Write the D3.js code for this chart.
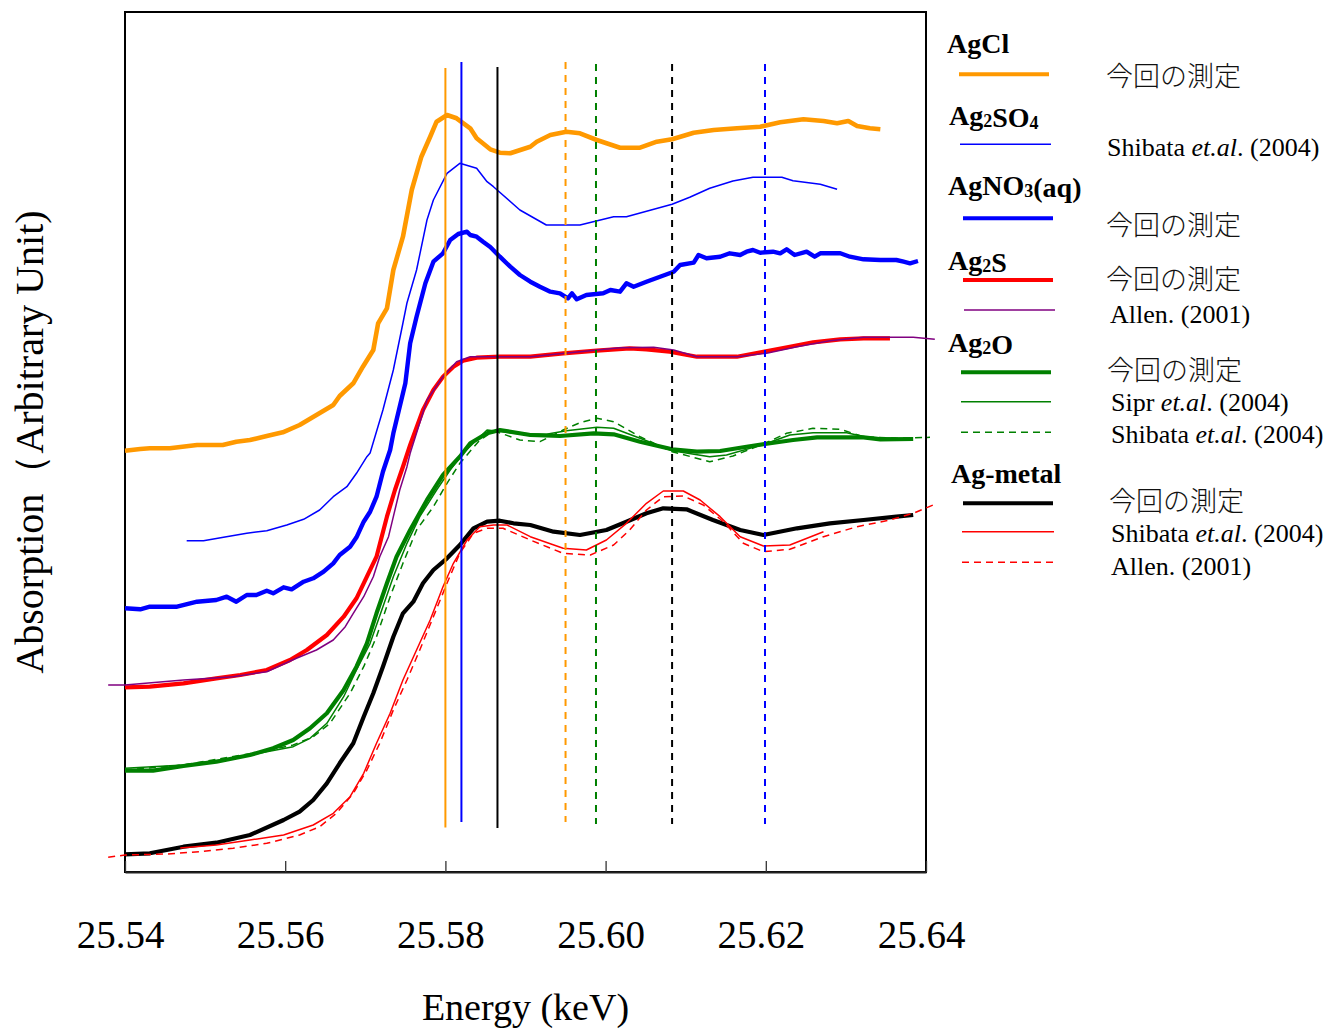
<!DOCTYPE html>
<html>
<head>
<meta charset="utf-8">
<script src="https://cdn.jsdelivr.net/npm/d3@7"></script>
<style>
  html, body { margin: 0; padding: 0; background: #fff; }
  svg { display: block; }
</style>
</head>
<body>
<svg id="chart" width="1332" height="1029"></svg>
<script>
// ---------------- DATA ----------------
const energyTicks = [25.54, 25.56, 25.58, 25.60, 25.62, 25.64];

// [energy (keV), absorption (arb. units, stacked offsets)]
const agclMeasured = [
  [25.5400,4.213],[25.5419,4.23],[25.5431,4.237],[25.5456,4.237],[25.5490,4.27],[25.5522,4.27],
  [25.5539,4.303],[25.5556,4.32],[25.5577,4.36],[25.5597,4.397],[25.5618,4.47],[25.5639,4.57],
  [25.5660,4.67],[25.5668,4.76],[25.5685,4.887],[25.5697,5.053],[25.5710,5.22],[25.5716,5.487],
  [25.5727,5.637],[25.5735,6.02],[25.5747,6.353],[25.5758,6.82],[25.5770,7.153],[25.5781,7.353],
  [25.5789,7.503],[25.5802,7.57],[25.5814,7.537],[25.5831,7.437],[25.5839,7.337],[25.5856,7.227],
  [25.5868,7.193],[25.5881,7.187],[25.5906,7.253],[25.5914,7.303],[25.5931,7.37],[25.5951,7.403],
  [25.5968,7.387],[25.5989,7.32],[25.6018,7.243],[25.6043,7.243],[25.6064,7.303],[25.6083,7.327],
  [25.6110,7.393],[25.6135,7.42],[25.6164,7.437],[25.6193,7.453],[25.6218,7.497],[25.6247,7.527],
  [25.6272,7.51],[25.6289,7.487],[25.6303,7.51],[25.6314,7.46],[25.6330,7.437],[25.6343,7.427]
];

const ag2so4Shibata = [
  [25.5477,3.313],[25.5498,3.313],[25.5523,3.347],[25.5552,3.387],[25.5577,3.413],[25.5602,3.47],
  [25.5623,3.527],[25.5643,3.62],[25.5660,3.753],[25.5677,3.853],[25.5689,3.987],[25.5702,4.153],
  [25.5706,4.19],[25.5722,4.62],[25.5735,5.02],[25.5747,5.49],[25.5752,5.69],[25.5764,6.02],
  [25.5777,6.52],[25.5785,6.72],[25.5802,6.987],[25.5818,7.087],[25.5839,7.037],[25.5852,6.903],
  [25.5860,6.853],[25.5893,6.62],[25.5926,6.47],[25.5968,6.47],[25.6010,6.553],[25.6026,6.553],
  [25.6083,6.677],[25.6105,6.747],[25.6130,6.837],[25.6159,6.91],[25.6184,6.947],[25.6220,6.947],
  [25.6234,6.913],[25.6268,6.877],[25.6289,6.827]
];

const agno3Measured = [
  [25.5400,2.637],[25.5419,2.627],[25.5431,2.653],[25.5465,2.653],[25.5490,2.703],[25.5514,2.72],
  [25.5527,2.753],[25.5539,2.703],[25.5552,2.77],[25.5564,2.77],[25.5577,2.813],[25.5585,2.787],
  [25.5598,2.847],[25.5608,2.827],[25.5623,2.903],[25.5635,2.937],[25.5648,3.003],[25.5660,3.087],
  [25.5668,3.17],[25.5681,3.253],[25.5689,3.347],[25.5698,3.503],[25.5706,3.603],[25.5714,3.753],
  [25.5722,4.003],[25.5731,4.22],[25.5735,4.387],[25.5750,4.887],[25.5756,5.287],[25.5764,5.553],
  [25.5775,5.887],[25.5785,6.103],[25.5797,6.187],[25.5806,6.32],[25.5816,6.38],[25.5827,6.403],
  [25.5831,6.37],[25.5839,6.353],[25.5847,6.303],[25.5856,6.25],[25.5868,6.153],[25.5881,6.053],
  [25.5893,5.97],[25.5906,5.903],[25.5918,5.853],[25.5931,5.803],[25.5943,5.787],[25.5953,5.737],
  [25.5958,5.787],[25.5964,5.727],[25.5976,5.77],[25.5997,5.787],[25.6006,5.82],[25.6018,5.803],
  [25.6026,5.887],[25.6035,5.853],[25.6051,5.903],[25.6068,5.953],[25.6085,6.003],[25.6093,6.07],
  [25.6110,6.093],[25.6116,6.17],[25.6126,6.137],[25.6143,6.153],[25.6155,6.187],[25.6168,6.17],
  [25.6176,6.203],[25.6184,6.22],[25.6193,6.193],[25.6209,6.203],[25.6218,6.187],[25.6226,6.227],
  [25.6236,6.17],[25.6251,6.203],[25.6261,6.153],[25.6268,6.187],[25.6293,6.187],[25.6305,6.153],
  [25.6322,6.127],[25.6343,6.12],[25.6363,6.12],[25.6372,6.103],[25.6380,6.087],[25.6390,6.11]
];

const ag2sMeasured = [
  [25.5400,1.847],[25.5431,1.853],[25.5473,1.887],[25.5514,1.937],[25.5544,1.97],[25.5577,2.02],
  [25.5606,2.12],[25.5627,2.22],[25.5652,2.37],[25.5673,2.553],[25.5689,2.737],[25.5702,2.953],
  [25.5714,3.153],[25.5727,3.553],[25.5737,3.82],[25.5747,4.053],[25.5756,4.27],[25.5772,4.62],
  [25.5785,4.82],[25.5797,4.953],[25.5810,5.053],[25.5822,5.113],[25.5839,5.143],[25.5868,5.153],
  [25.5906,5.153],[25.5947,5.187],[25.5989,5.213],[25.6030,5.237],[25.6051,5.227],[25.6080,5.203],
  [25.6114,5.153],[25.6164,5.153],[25.6197,5.203],[25.6230,5.253],[25.6259,5.297],[25.6293,5.327],
  [25.6322,5.337],[25.6355,5.337]
];

const ag2sAllen = [
  [25.5379,1.87],[25.5400,1.87],[25.5473,1.92],[25.5535,1.953],[25.5577,2.003],[25.5614,2.137],
  [25.5639,2.22],[25.5660,2.32],[25.5675,2.453],[25.5685,2.587],[25.5698,2.753],[25.5710,2.953],
  [25.5718,3.153],[25.5729,3.353],[25.5733,3.487],[25.5743,3.82],[25.5752,4.053],[25.5756,4.187],
  [25.5777,4.72],[25.5797,4.953],[25.5814,5.103],[25.5831,5.153],[25.5868,5.153],[25.5906,5.153],
  [25.5968,5.203],[25.6018,5.243],[25.6060,5.247],[25.6085,5.22],[25.6114,5.153],[25.6164,5.153],
  [25.6201,5.187],[25.6239,5.253],[25.6280,5.313],[25.6322,5.347],[25.6384,5.347],[25.6411,5.327]
];

const ag2oMeasured = [
  [25.5400,1.013],[25.5435,1.013],[25.5473,1.06],[25.5514,1.103],[25.5556,1.17],[25.5585,1.237],
  [25.5610,1.32],[25.5631,1.437],[25.5652,1.587],[25.5673,1.82],[25.5689,2.053],[25.5702,2.287],
  [25.5714,2.587],[25.5727,2.887],[25.5739,3.153],[25.5756,3.42],[25.5777,3.72],[25.5797,3.97],
  [25.5818,4.153],[25.5831,4.287],[25.5852,4.387],[25.5868,4.42],[25.5906,4.37],[25.5943,4.36],
  [25.5985,4.387],[25.6010,4.377],[25.6043,4.303],[25.6083,4.227],[25.6114,4.203],[25.6143,4.21],
  [25.6176,4.253],[25.6199,4.28],[25.6234,4.32],[25.6264,4.347],[25.6322,4.347],[25.6343,4.327],
  [25.6384,4.33]
];

const ag2oSipr = [
  [25.5400,1.037],[25.5473,1.07],[25.5535,1.137],[25.5577,1.203],[25.5610,1.253],[25.5631,1.337],
  [25.5652,1.487],[25.5673,1.753],[25.5689,2.02],[25.5706,2.287],[25.5722,2.653],[25.5735,2.953],
  [25.5752,3.287],[25.5768,3.553],[25.5789,3.82],[25.5806,4.02],[25.5822,4.187],[25.5852,4.42],
  [25.5885,4.387],[25.5926,4.377],[25.5951,4.413],[25.5989,4.447],[25.6010,4.437],[25.6043,4.337],
  [25.6083,4.213],[25.6130,4.153],[25.6151,4.17],[25.6199,4.28],[25.6230,4.37],[25.6259,4.393],
  [25.6301,4.393],[25.6326,4.347],[25.6363,4.337]
];

const ag2oShibata = [
  [25.5400,1.02],[25.5473,1.07],[25.5577,1.213],[25.5610,1.27],[25.5635,1.353],[25.5656,1.487],
  [25.5681,1.787],[25.5698,2.053],[25.5714,2.353],[25.5731,2.753],[25.5747,3.087],[25.5764,3.42],
  [25.5785,3.653],[25.5802,3.887],[25.5818,4.087],[25.5843,4.32],[25.5856,4.387],[25.5864,4.403],
  [25.5893,4.32],[25.5918,4.303],[25.5947,4.42],[25.5968,4.493],[25.5989,4.537],[25.6010,4.503],
  [25.6043,4.353],[25.6083,4.203],[25.6130,4.103],[25.6159,4.16],[25.6199,4.287],[25.6226,4.387],
  [25.6259,4.437],[25.6293,4.427],[25.6322,4.353],[25.6363,4.337],[25.6405,4.347]
];

const agMetalMeasured = [
  [25.5400,0.177],[25.5431,0.187],[25.5473,0.253],[25.5514,0.293],[25.5556,0.37],[25.5598,0.52],
  [25.5618,0.603],[25.5635,0.72],[25.5652,0.887],[25.5668,1.087],[25.5685,1.287],[25.5698,1.553],
  [25.5710,1.787],[25.5722,2.053],[25.5735,2.353],[25.5747,2.587],[25.5760,2.703],[25.5772,2.887],
  [25.5785,3.02],[25.5802,3.137],[25.5818,3.27],[25.5835,3.437],[25.5852,3.503],[25.5868,3.513],
  [25.5885,3.487],[25.5906,3.47],[25.5935,3.403],[25.5968,3.37],[25.6001,3.42],[25.6026,3.503],
  [25.6051,3.587],[25.6072,3.637],[25.6101,3.627],[25.6134,3.52],[25.6168,3.42],[25.6197,3.37],
  [25.6239,3.437],[25.6280,3.487],[25.6322,3.52],[25.6363,3.553],[25.6384,3.57]
];

const agMetalShibata = [
  [25.5469,0.24],[25.5514,0.27],[25.5556,0.32],[25.5598,0.37],[25.5635,0.47],[25.5660,0.587],
  [25.5681,0.753],[25.5698,0.987],[25.5714,1.287],[25.5731,1.587],[25.5747,1.92],[25.5764,2.22],
  [25.5781,2.52],[25.5797,2.853],[25.5810,3.087],[25.5827,3.32],[25.5843,3.453],[25.5860,3.47],
  [25.5877,3.47],[25.5906,3.353],[25.5947,3.237],[25.5976,3.22],[25.6001,3.32],[25.6026,3.487],
  [25.6051,3.687],[25.6072,3.81],[25.6097,3.81],[25.6118,3.72],[25.6143,3.553],[25.6168,3.353],
  [25.6197,3.26],[25.6230,3.27],[25.6272,3.403]
];

const agMetalAllen = [
  [25.5379,0.147],[25.5400,0.17],[25.5452,0.18],[25.5494,0.203],[25.5535,0.237],[25.5577,0.287],
  [25.5618,0.37],[25.5643,0.453],[25.5664,0.587],[25.5685,0.787],[25.5702,1.02],[25.5718,1.287],
  [25.5735,1.62],[25.5752,1.92],[25.5768,2.22],[25.5785,2.553],[25.5802,2.887],[25.5818,3.187],
  [25.5835,3.387],[25.5852,3.437],[25.5872,3.437],[25.5906,3.32],[25.5947,3.187],[25.5981,3.17],
  [25.6010,3.27],[25.6030,3.42],[25.6051,3.62],[25.6072,3.753],[25.6097,3.76],[25.6122,3.67],
  [25.6147,3.503],[25.6172,3.287],[25.6197,3.203],[25.6230,3.227],[25.6272,3.353],[25.6314,3.453],
  [25.6355,3.52],[25.6384,3.587],[25.6409,3.67]
];

// reference energies (keV) and vertical extent (absorption units)
const refEnergies = [25.5800, 25.5820, 25.5865, 25.5950, 25.5988, 25.6083, 25.6199];
const refTop      = [8.04, 8.10, 8.05, 8.10, 8.08, 8.08, 8.08];
const refBottom   = [0.445, 0.50, 0.44, 0.50, 0.48, 0.48, 0.48];

// ---------------- STYLE / LAYOUT ----------------
const C = { orange: "#FF9900", blue: "#0000FF", red: "#FF0000", green: "#008000", purple: "#800080", black: "#000000" };
const THICK = 4.2, THIN = 1.5, DASH = "7,5";
const refStyles = [
  { color: C.orange, dash: null }, { color: C.blue, dash: null }, { color: C.black, dash: null },
  { color: C.orange, dash: "7,6" }, { color: C.green, dash: "7,6" }, { color: C.black, dash: "7,6" }, { color: C.blue, dash: "7,6" }
];
const seriesDraw = [
  { data: agclMeasured,    color: C.orange, w: 4.6,  dash: null },
  { data: ag2so4Shibata,   color: C.blue,   w: THIN, dash: null },
  { data: agno3Measured,   color: C.blue,   w: 4.4,  dash: null },
  { data: ag2sMeasured,    color: C.red,    w: THICK,dash: null },
  { data: ag2sAllen,       color: C.purple, w: THIN, dash: null },
  { data: ag2oMeasured,    color: C.green,  w: THICK,dash: null },
  { data: ag2oSipr,        color: C.green,  w: THIN, dash: null },
  { data: ag2oShibata,     color: C.green,  w: THIN, dash: DASH },
  { data: agMetalMeasured, color: C.black,  w: THICK,dash: null },
  { data: agMetalShibata,  color: C.red,    w: THIN, dash: null },
  { data: agMetalAllen,    color: C.red,    w: THIN, dash: DASH }
];

const SERIF = "'Liberation Serif','Times New Roman',Times,serif";
const JP = "'Noto Sans CJK JP','Noto Sans CJK SC',sans-serif";

const svg = d3.select("#chart");
const plot = { left: 125, right: 926, top: 12, bottom: 872 };

const x = d3.scaleLinear().domain([25.54, 25.64]).range([plot.left, plot.right]);
const y = d3.scaleLinear().domain([0, 8.6]).range([plot.bottom, plot.top]);

const line = d3.line().x(d => x(d[0])).y(d => y(d[1]));

// frame
svg.append("rect")
  .attr("x", plot.left).attr("y", plot.top)
  .attr("width", plot.right - plot.left).attr("height", plot.bottom - plot.top)
  .attr("fill", "none").attr("stroke", "#000").attr("stroke-width", 2);

// x axis
const xAxis = d3.axisBottom(x).tickValues(energyTicks).tickFormat(d3.format(".2f"))
  .tickSizeInner(-11).tickSizeOuter(0);
const gx = svg.append("g").attr("transform", `translate(0,${plot.bottom})`).call(xAxis);
gx.attr("font-family", null).attr("font-size", null);
gx.select(".domain").attr("stroke", "#222").attr("stroke-width", 2);
gx.selectAll(".tick line").attr("stroke", "#333").attr("stroke-width", 1.3);
gx.selectAll(".tick text")
  .attr("y", 76).attr("dy", 0).attr("dx", -5)
  .attr("fill", "#000")
  .style("font-family", SERIF).style("font-size", "39px");

// axis titles
svg.append("text")
  .attr("x", (plot.left + plot.right) / 2).attr("y", 1020)
  .attr("text-anchor", "middle")
  .style("font-family", SERIF).style("font-size", "38px")
  .text("Energy (keV)");

svg.append("text")
  .attr("transform", `translate(43,${(plot.top + plot.bottom) / 2}) rotate(-90)`)
  .attr("text-anchor", "middle")
  .style("font-family", SERIF).style("font-size", "40px")
  .text("Absorption（Arbitrary Unit)");

// series
seriesDraw.forEach(s => {
  svg.append("path")
    .datum(s.data)
    .attr("d", line)
    .attr("fill", "none")
    .attr("stroke", s.color)
    .attr("stroke-width", s.w)
    .attr("stroke-linejoin", "round")
    .attr("stroke-dasharray", s.dash);
});

// reference vertical lines
svg.append("g").selectAll("line")
  .data(refEnergies.map((e, i) => ({ e, top: refTop[i], bot: refBottom[i], st: refStyles[i] })))
  .join("line")
  .attr("x1", d => x(d.e)).attr("x2", d => x(d.e))
  .attr("y1", d => y(d.top)).attr("y2", d => y(d.bot))
  .attr("stroke", d => d.st.color)
  .attr("stroke-width", 2)
  .attr("stroke-dasharray", d => d.st.dash);

// ---------------- LEGEND ----------------
function compound(xp, yp, parts) {
  const t = svg.append("text").attr("x", xp).attr("y", yp)
    .style("font-family", SERIF).style("font-size", "28px").style("font-weight", "bold");
  parts.forEach(p => {
    if (typeof p === "string") t.append("tspan").text(p);
    else {
      t.append("tspan").attr("dy", 2).style("font-size", "18px").text(p.sub);
      t.append("tspan").attr("dy", -2).text("");
    }
  });
}
function swatch(x1, x2, yp, color, w, dash) {
  svg.append("line").attr("x1", x1).attr("x2", x2).attr("y1", yp).attr("y2", yp)
    .attr("stroke", color).attr("stroke-width", w).attr("stroke-dasharray", dash || null);
}
function jp(xp, yp) {
  svg.append("text").attr("x", xp).attr("y", yp)
    .style("font-family", JP).style("font-size", "27px").style("font-weight", 300)
    .attr("fill", "#111").text("今回の測定");
}
function ref(xp, yp, author, etal, year) {
  const t = svg.append("text").attr("x", xp).attr("y", yp)
    .style("font-family", SERIF).style("font-size", "26px");
  t.append("tspan").text(author);
  if (etal) t.append("tspan").style("font-style", "italic").text(" et.al");
  t.append("tspan").text(". " + year);
}

compound(947, 53, ["AgCl"]);
swatch(959, 1049, 74.3, C.orange, 4);
jp(1106, 86);

compound(949, 125, ["Ag", { sub: "2" }, "SO", { sub: "4" }]);
swatch(960, 1051, 144.3, C.blue, THIN);
ref(1107, 156, "Shibata", true, "(2004)");

compound(948, 195, ["AgNO", { sub: "3" }, "(aq)"]);
swatch(963, 1053, 218.3, C.blue, 4);
jp(1106, 235);

compound(948, 270, ["Ag", { sub: "2" }, "S"]);
swatch(963, 1053, 280, C.red, 4);
jp(1106, 289);
swatch(964, 1055, 310, C.purple, THIN);
ref(1110, 323, "Allen", false, "(2001)");

compound(948, 351.7, ["Ag", { sub: "2" }, "O"]);
swatch(961, 1051, 372.3, C.green, 4);
jp(1107, 379.5);
swatch(961, 1051, 401.7, C.green, THIN);
ref(1111, 411, "Sipr", true, "(2004)");
swatch(961, 1051, 432.3, C.green, THIN, DASH);
ref(1111, 443.3, "Shibata", true, "(2004)");

compound(951, 483.3, ["Ag-metal"]);
swatch(963, 1053, 503.3, C.black, 4);
jp(1109, 511);
swatch(962, 1054, 531.7, C.red, THIN);
ref(1111, 542, "Shibata", true, "(2004)");
swatch(962, 1054, 562.3, C.red, THIN, DASH);
ref(1111, 575, "Allen", false, "(2001)");
</script>
</body>
</html>
